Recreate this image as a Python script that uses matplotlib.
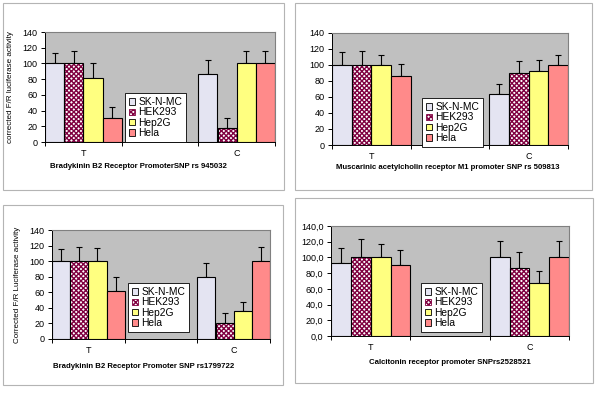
import numpy as np
import matplotlib
matplotlib.use("Agg")
import matplotlib.pyplot as plt
from matplotlib.patches import Rectangle, Patch

plt.rcParams['font.family'] = ['Liberation Sans', 'DejaVu Sans']
plt.rcParams['hatch.linewidth'] = 1.0

# data
categories = ['T', '', 'C']
cells = ['SK-N-MC', 'HEK293', 'Hep2G', 'Hela']

# panel values: rows = cell lines, cols = T, C
p1_vals = [[100, 87], [100, 18], [82, 100], [31, 100]]
p1_err = [[13, 18], [16, 12], [19, 16], [13, 16]]
p2_vals = [[100, 63.5], [100, 90], [100, 92], [86.5, 100]]
p2_err = [[16, 12.5], [17, 15], [13, 14], [14.5, 13]]
p3_vals = [[100, 79], [100, 20.5], [100, 35.5], [62, 100]]
p3_err = [[15, 18], [18.5, 13], [16.5, 12], [18, 18.5]]
p4_vals = [[93.5, 100], [100, 87], [100, 67], [91, 100]]
p4_err = [[18, 21], [24, 19.5], [17, 15.5], [19, 21]]

titles = ['Bradykinin B2 Receptor PromoterSNP rs 945032',
          'Muscarinic acetylcholin receptor M1 promoter SNP rs 509813',
          'Bradykinin B2 Receptor Promoter SNP rs1799722',
          'Calcitonin receptor promoter SNPrs2528521']
ylabels = ['corrected F/R luciferase activity', None,
           'Corrected F/R Luciferase activity', None]

face = ['#e4e4f2', 'white', '#ffff80', '#ff8a8a']
hatch = [None, 'xxxxxxx', None, None]
hcol = [None, '#800040', None, None]

W, H = 600, 400
fig = plt.figure(figsize=(6, 4), dpi=100)

# panel frames (pixels: x0, y0, x1, y1)
frames = [(3, 3, 284, 190), (295, 3, 592, 190), (3, 205, 283, 385), (295, 198, 593, 383)]
for x0, y0, x1, y1 in frames:
    fig.patches.append(Rectangle((x0 / W, 1 - y1 / H), (x1 - x0) / W, (y1 - y0) / H,
                                 transform=fig.transFigure, fill=False,
                                 edgecolor='#b4b4b4', linewidth=0.8))

# axes boxes (pixels: x0, y0, x1, y1)
axboxes = [(45, 32, 275, 142), (332, 33, 568, 145), (52, 230, 270, 339), (331, 226, 569, 336)]
legboxes = [(125, 93), (422, 98), (128, 283), (421, 283)]
titlepos = [(138, 167), (448, 168), (144, 366), (450, 362)]

allvals = [p1_vals, p2_vals, p3_vals, p4_vals]
allerr = [p1_err, p2_err, p3_err, p4_err]

for k in range(4):
    x0, y0, x1, y1 = axboxes[k]
    ax = fig.add_axes([x0 / W, 1 - y1 / H, (x1 - x0) / W, (y1 - y0) / H])
    ax.set_facecolor('#c0c0c0')
    xpos = np.array([0, 2])
    bw = 0.25
    for i in range(4):
        xs = xpos - 0.5 + bw * (i + 0.5)
        v = allvals[k][i]
        e = allerr[k][i]
        if hatch[i]:
            ax.bar(xs, v, width=bw, color=face[i], hatch=hatch[i],
                   edgecolor=hcol[i], linewidth=0, zorder=2)
            ax.bar(xs, v, width=bw, fill=False, edgecolor='black', linewidth=0.8, zorder=3)
        else:
            ax.bar(xs, v, width=bw, color=face[i], edgecolor='black', linewidth=0.8, zorder=2)
        ax.errorbar(xs, v, yerr=[np.zeros(2), e], fmt='none', ecolor='black',
                    elinewidth=0.8, capsize=2.5, capthick=0.8, zorder=1)
    ax.set_xlim(-0.5, 2.5)
    ax.set_ylim(0, 140)
    ax.set_yticks(np.arange(0, 141, 20))
    if k == 3:
        ax.set_yticklabels([('%.1f' % t).replace('.', ',') for t in np.arange(0, 141, 20)])
    ax.set_xticks([-0.5, 0.5, 1.5, 2.5])
    ax.set_xticklabels([])
    ax.set_xticks([0, 1, 2], minor=True)
    ax.set_xticklabels(categories, minor=True)
    ax.tick_params(axis='x', which='major', length=3, width=0.7, direction='out')
    ax.tick_params(axis='x', which='minor', length=0, pad=5, labelsize=6.5)
    ax.tick_params(axis='y', length=3, width=0.7, labelsize=6.5, pad=2.5)
    ax.spines['left'].set_linewidth(0.7)
    ax.spines['bottom'].set_linewidth(0.7)
    ax.spines['top'].set_color('#808080')
    ax.spines['right'].set_color('#808080')
    if ylabels[k]:
        ax.set_ylabel(ylabels[k], fontsize=5.8, labelpad=6)

    handles = [Patch(facecolor=face[i] if not hatch[i] else 'white', hatch=hatch[i],
                     edgecolor=hcol[i] if hatch[i] else 'black', linewidth=0.6) for i in range(4)]
    lx, ly = legboxes[k]
    leg = ax.legend(handles, cells, loc='upper left', bbox_to_anchor=(lx / W, 1 - ly / H),
                    bbox_transform=fig.transFigure, fontsize=7.4, frameon=True,
                    fancybox=False, edgecolor='black', framealpha=1,
                    handlelength=0.6, handleheight=0.6, handletextpad=0.3,
                    borderpad=0.4, labelspacing=0.03, borderaxespad=0)
    leg.get_frame().set_linewidth(0.6)

    tx, ty = titlepos[k]
    fig.text(tx / W, 1 - ty / H, titles[k], fontsize=5.6, fontweight='bold',
             ha='center', va='center')

fig.savefig('out.png', dpi=100)
